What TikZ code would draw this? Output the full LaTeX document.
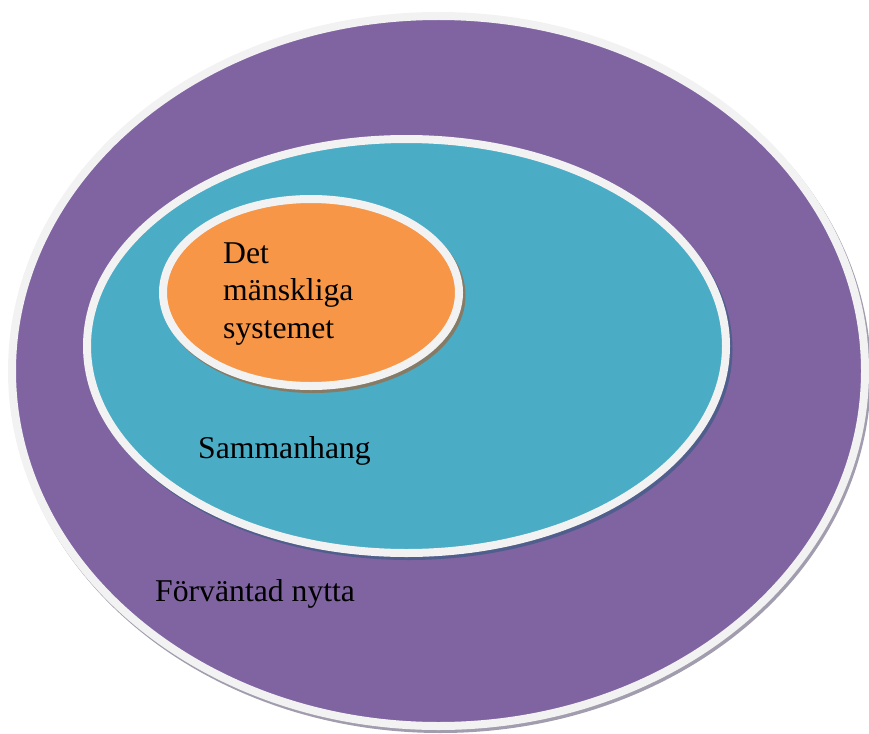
\documentclass[tikz,border=0pt]{standalone}
\usepackage{fontspec}
\setmainfont{Liberation Serif}
\definecolor{purp}{HTML}{8064A2}
\definecolor{teal}{HTML}{4BACC6}
\definecolor{orng}{HTML}{F79646}
\definecolor{rim}{HTML}{F2F2F2}
\definecolor{shpurp}{HTML}{A29DAE}
\definecolor{shteal}{HTML}{4F5E8C}
\definecolor{shorng}{HTML}{857B66}
\tikzset{
  ring/.style={draw=rim, line width=8pt},
  lbl/.style={font=\fontsize{31.7}{37.5}\selectfont, inner sep=0pt, anchor=base west, align=left},
}
\begin{document}
\begin{tikzpicture}[x=1pt,y=-1pt]
\useasboundingbox (0,0) rectangle (869,733);
% outer
\fill[shpurp] (440.5,374) ellipse [x radius=430.5, y radius=359];
\path[ring, fill=purp] (438.5,371) ellipse [x radius=426.5, y radius=355];
% middle
\fill[shteal] (409,349) ellipse [x radius=323.5, y radius=211];
\path[ring, fill=teal] (406.5,346) ellipse [x radius=319.5, y radius=207];
% inner
\fill[shorng] (313.5,295.5) ellipse [x radius=152, y radius=97.5];
\path[ring, fill=orng] (311,292.5) ellipse [x radius=148, y radius=93.5];
% labels
\node[lbl] (inner) at (223,338) {Det\\mänskliga\\systemet};
\node[lbl] (mid) at (198,458) {Sammanhang};
\node[lbl] (outer) at (155,601) {Förväntad nytta};
\end{tikzpicture}
\end{document}
